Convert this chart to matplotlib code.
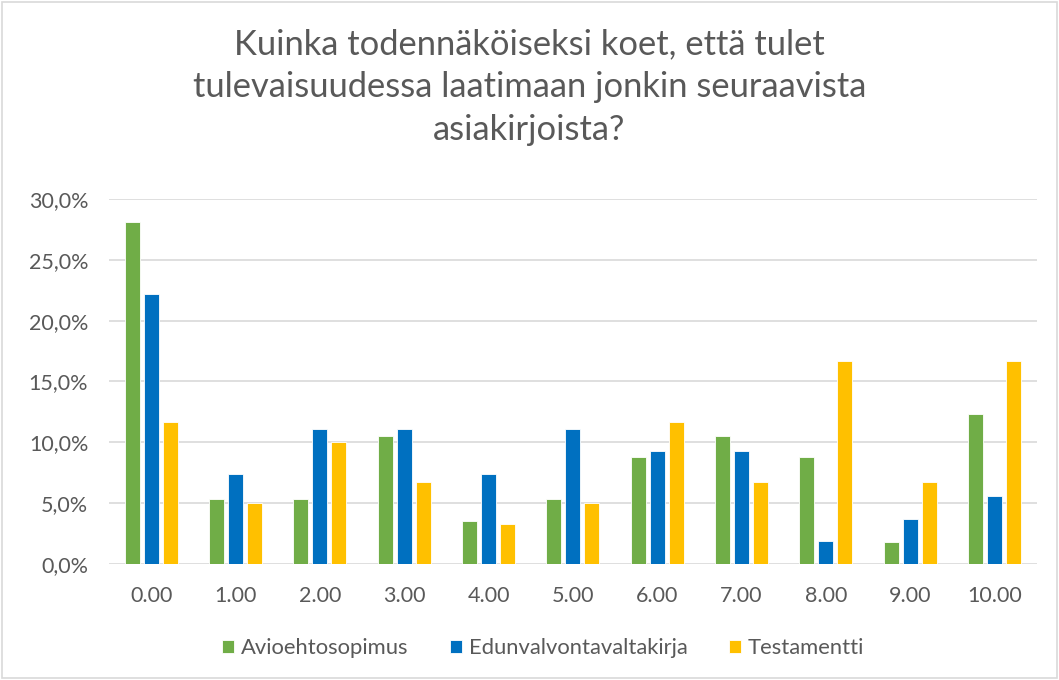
import numpy as np
import matplotlib.pyplot as plt
from matplotlib.patches import Rectangle

# data (shares, %)
categories = ["0.00", "1.00", "2.00", "3.00", "4.00", "5.00", "6.00", "7.00", "8.00", "9.00", "10.00"]
avioehtosopimus = [28.1, 5.3, 5.3, 10.5, 3.5, 5.3, 8.8, 10.5, 8.8, 1.8, 12.3]
edunvalvontavaltakirja = [22.2, 7.4, 11.1, 11.1, 7.4, 11.1, 9.3, 9.3, 1.9, 3.7, 5.6]
testamentti = [11.7, 5.0, 10.0, 6.7, 3.3, 5.0, 11.7, 6.7, 16.7, 6.7, 16.7]
series_names = ["Avioehtosopimus", "Edunvalvontavaltakirja", "Testamentti"]
colors = ["#70AD47", "#0070C0", "#FFC000"]

plt.rcParams['font.family'] = ['Lato', 'DejaVu Sans']
txt = "#595959"

fig = plt.figure(figsize=(10.59, 6.8), dpi=100)
ax = fig.add_axes([0.103, 0.171, 0.876, 0.536])

x = np.arange(len(categories))
w = 0.178
step = 0.225
for i, (vals, name) in enumerate(zip([avioehtosopimus, edunvalvontavaltakirja, testamentti], series_names)):
    ax.bar(x + (i - 1) * step, vals, width=w, color=colors[i], label=name, zorder=3,
           edgecolor="white", linewidth=0.6)

ax.set_xlim(-0.5, len(categories) - 0.5)
ax.set_ylim(0, 30)
ax.set_yticks(np.arange(0, 31, 5))
ax.set_yticklabels([("%.1f" % v).replace(".", ",") + "%" for v in np.arange(0, 31, 5)])
ax.set_xticks(x)
ax.set_xticklabels(categories)
ax.yaxis.grid(True, color="#D9D9D9", linewidth=1.2, zorder=0)
for s in ["top", "right", "left", "bottom"]:
    ax.spines[s].set_visible(False)
ax.tick_params(axis="both", length=0, labelsize=15.5, colors=txt)
ax.tick_params(axis="y", pad=15)
ax.tick_params(axis="x", pad=16)

fig.text(0.5, 0.872, "Kuinka todennäköiseksi koet, että tulet\ntulevaisuudessa laatimaan jonkin seuraavista\nasiakirjoista?",
         ha="center", va="center", fontsize=24.8, color=txt, linespacing=1.42)

h, l = ax.get_legend_handles_labels()
fig.legend(h, l, loc="center", bbox_to_anchor=(0.513, 0.047), ncol=3, frameon=False,
           fontsize=15.8, labelcolor=txt, handlelength=0.55, handleheight=0.55,
           columnspacing=1.9, handletextpad=0.3)

fig.patches.append(Rectangle((0.002, 0.003), 0.996, 0.994, transform=fig.transFigure,
                             fill=False, edgecolor="#D9D9D9", linewidth=1.2))

fig.savefig("out.png", dpi=100)
